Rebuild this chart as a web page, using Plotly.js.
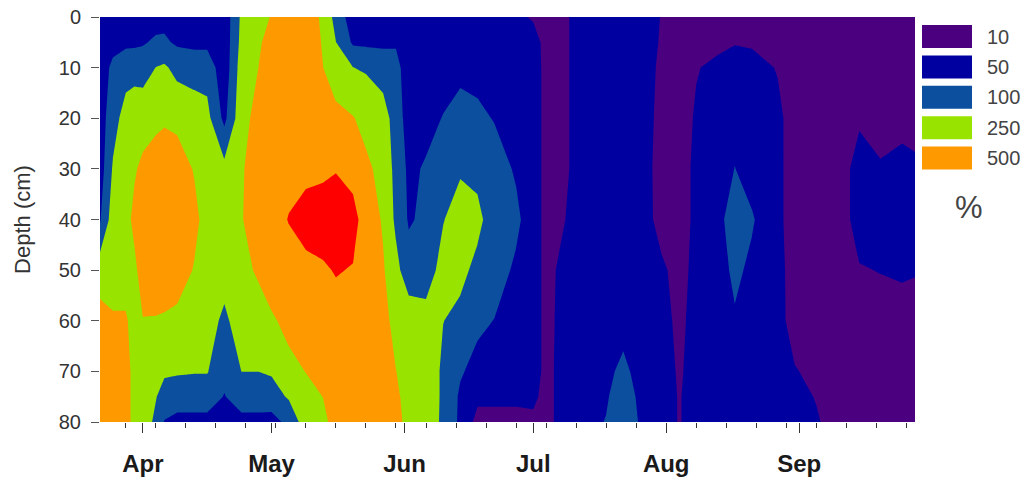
<!DOCTYPE html>
<html>
<head>
<meta charset="utf-8">
<script src="https://cdn.plot.ly/plotly-3.0.1.min.js"></script>
<style>
  html, body { margin: 0; padding: 0; background: #ffffff; }
  #chart { width: 1032px; height: 482px; }
</style>
</head>
<body>
<div id="chart"></div>
<script>
// Sampling dates (x) and depths (y, cm)
const sampleDates = [
  '2013-03-22','2013-03-25','2013-03-28','2013-03-30','2013-04-01','2013-04-04','2013-04-06','2013-04-09','2013-04-13','2013-04-16',
  '2013-04-20','2013-04-24','2013-04-28','2013-05-01','2013-05-05','2013-05-09','2013-05-13','2013-05-16','2013-05-20','2013-05-23',
  '2013-05-27','2013-05-30','2013-06-02','2013-06-06','2013-06-10','2013-06-14','2013-06-18','2013-06-22','2013-06-27','2013-07-01',
  '2013-07-04','2013-07-07','2013-07-10','2013-07-18','2013-07-22','2013-07-26','2013-07-31','2013-08-04','2013-08-08','2013-08-13',
  '2013-08-17','2013-08-21','2013-08-27','2013-08-31','2013-09-05','2013-09-10','2013-09-15','2013-09-20','2013-09-25','2013-09-28'
];
const depths = [0, 5, 10, 20, 30, 40, 50, 60, 70, 75, 80];

// Values (%) per depth, one entry per sampling date
const pct_0cm  = [30,30,30,30,30,34,38,30,30,30, 25,130,205,262,350,325,235,80,30,30, 30,30,30,30,30,30,30,30,18,9, 7,6,14,30,30,30,9.5,6,6,6, 7,6,6,6,6,6,6,6,6,6];
const pct_5cm  = [30,38,42,42,46,58,58,44,40,40, 25,145,235,325,375,350,242,102,44,42, 42,46,30,30,30,30,30,30,30,26, 7,6,14,30,30,30,9,6,7,8, 9.5,9,7,6,6,6,6,6,6,6];
const pct_10cm = [30,60,80,85,80,102,122,85,80,80, 25,175,252,375,400,375,252,190,102,95, 80,65,30,30,34,42,38,34,30,30, 7,6,14,30,30,30,8,6,9.5,18, 26,22,9.5,6,6,6,6,6,6,6];
const pct_20cm = [30,80,160,175,190,220,235,220,175,145, 40,205,325,400,425,425,350,300,262,205, 160,80,30,38,52,65,60,48,34,30, 7,6,14,30,30,30,7,6,14,30, 38,30,18,6,6,6,9,8,8.5,8];
const pct_30cm = [30,115,190,235,300,350,362,350,242,190, 145,235,375,425,462,475,462,488,425,300, 205,85,42,55,80,95,90,70,46,30, 7,6,14,30,30,30,6,6,18,30, 51,34,18,6,6,6,22,12,16,14];
const pct_40cm = [46,175,205,300,375,400,425,400,300,205, 190,242,375,450,510,575,700,750,650,400, 235,90,46,60,98,160,130,80,60,30, 7,8,18,30,30,30,6.5,6,18,38, 75,55,18,6,6,6,22,22,22,18];
const pct_50cm = [190,190,190,220,350,375,375,350,242,205, 160,220,275,400,450,475,475,525,488,400, 275,145,70,80,145,130,90,70,44,30, 7,14,30,30,30,30,16,7,20,34, 60,42,22,6,6,6,9.5,11,14,12];
const pct_60cm = [325,275,275,205,245,242,235,220,190,160, 90,175,205,228,325,400,400,425,425,375, 300,220,190,145,102,90,60,49,34,30, 7,16,30,34,38,30,22,8,22,30, 46,34,22,6.5,6,6,6,7,7,7];
const pct_70cm = [375,375,375,190,190,145,122,115,108,108, 65,101,101,115,205,255,325,375,400,375, 325,252,220,190,92,55,38,34,30,30, 7,18,30,42,60,38,26,9,22,30, 30,30,26,12,8,6,6,6,6,6];
const pct_75cm = [375,375,375,190,175,108,80,75,75,75, 48,75,75,80,115,205,252,350,375,375, 325,275,220,190,92,44,18,18,18,18, 7,18,30,46,75,42,26,9.5,22,30, 30,30,26,22,9.5,6,6,6,6,6];
const pct_80cm = [375,375,375,190,175,90,48,38,38,38, 30,38,38,34,65,175,220,325,375,375, 325,300,220,175,92,42,7,7,7,8, 7,18,30,52,80,46,26,9.5,22,30, 30,30,26,26,14,6,6,6,6,6];

// Contour class limits (%) and legend
const classLimits = [0, 10, 50, 100, 250, 500, 1000];
const legendLabels = ['10', '50', '100', '250', '500'];
const classColors = ['#4B0080', '#0000A0', '#0B4F9E', '#99E300', '#FF9900', '#FF0000'];

// Month axis labels
const monthTicks = ['2013-04-01','2013-05-01','2013-06-01','2013-07-01','2013-08-01','2013-09-01'];
const monthLabels = ['Apr','May','Jun','Jul','Aug','Sep'];
const yTicks = [0, 10, 20, 30, 40, 50, 60, 70, 80];

// Map a percent value onto class space (piecewise linear between limits)
function toClass(v) {
  for (let i = 0; i < classLimits.length - 1; i++) {
    if (v <= classLimits[i + 1]) {
      return i + (v - classLimits[i]) / (classLimits[i + 1] - classLimits[i]);
    }
  }
  return classLimits.length - 1;
}

const rows = [pct_0cm, pct_5cm, pct_10cm, pct_20cm, pct_30cm, pct_40cm, pct_50cm, pct_60cm, pct_70cm, pct_75cm, pct_80cm];
const zClass = rows.map(r => r.map(toClass));

// band fills are sampled at class midpoints 0.5..5.5 -> fractions 0,.2,.4,.6,.8,1
const colorscale = classColors.map((c, i) => [i / (classColors.length - 1), c]);

const trace = {
  type: 'contour',
  x: sampleDates,
  y: depths,
  z: zClass,
  autocontour: false,
  contours: { start: 1, end: 5, size: 1, coloring: 'fill', showlines: false },
  line: { width: 0, smoothing: 0 },
  colorscale: colorscale,
  showscale: false,
  hoverinfo: 'skip'
};

const FONT = 'Liberation Sans, Arial, Helvetica, sans-serif';
const L = 100, R = 915, T = 17, B = 422;
const W = 1032, H = 482;
function px2x(px) { return (px - L) / (R - L); }
function px2y(py) { return 1 - (py - T) / (B - T); }

const shapes = [];
const annotations = [];
for (let i = 0; i < legendLabels.length; i++) {
  const top = 25 + i * 30.4;
  shapes.push({
    type: 'rect', xref: 'paper', yref: 'paper',
    x0: px2x(922), x1: px2x(972), y0: px2y(top + 23), y1: px2y(top),
    fillcolor: classColors[i], line: { width: 0 }
  });
  annotations.push({
    xref: 'paper', yref: 'paper', x: px2x(985), y: px2y(top + 11.5),
    xanchor: 'left', yanchor: 'middle', showarrow: false,
    text: legendLabels[i], font: { family: FONT, size: 20, color: '#444' }
  });
}
annotations.push({
  xref: 'paper', yref: 'paper', x: px2x(969), y: px2y(207),
  xanchor: 'center', yanchor: 'middle', showarrow: false,
  text: '%', font: { family: FONT, size: 31, color: '#444' }
});

const layout = {
  width: W, height: H,
  margin: { l: L, r: W - R, t: T, b: H - B, pad: 0 },
  paper_bgcolor: '#ffffff', plot_bgcolor: '#ffffff',
  showlegend: false,
  xaxis: {
    type: 'date',
    range: ['2013-03-22', '2013-09-28'],
    tickmode: 'array', tickvals: monthTicks, ticktext: monthLabels,
    ticks: 'outside', ticklen: 10, tickwidth: 1, tickcolor: '#333',
    ticklabelstandoff: 10,
    tickfont: { family: FONT, size: 24, color: '#1a1a1a', weight: 'bold' },
    showgrid: false, zeroline: false, showline: false,
    minor: { ticks: 'outside', ticklen: 5, tickwidth: 1, tickcolor: '#333', tick0: '2013-03-28', dtick: 604800000, showgrid: false }
  },
  yaxis: {
    range: [80, 0], tickmode: 'array', tickvals: yTicks,
    ticks: 'outside', ticklen: 8, tickwidth: 1, tickcolor: '#555',
    ticklabelstandoff: 6,
    tickfont: { family: FONT, size: 20, color: '#333' },
    title: { text: 'Depth (cm)', font: { family: FONT, size: 22, color: '#333' }, standoff: 22 },
    showgrid: false, zeroline: false, showline: false
  },
  shapes: shapes,
  annotations: annotations
};

Plotly.newPlot('chart', [trace], layout, { displayModeBar: false, staticPlot: true });
</script>
</body>
</html>
